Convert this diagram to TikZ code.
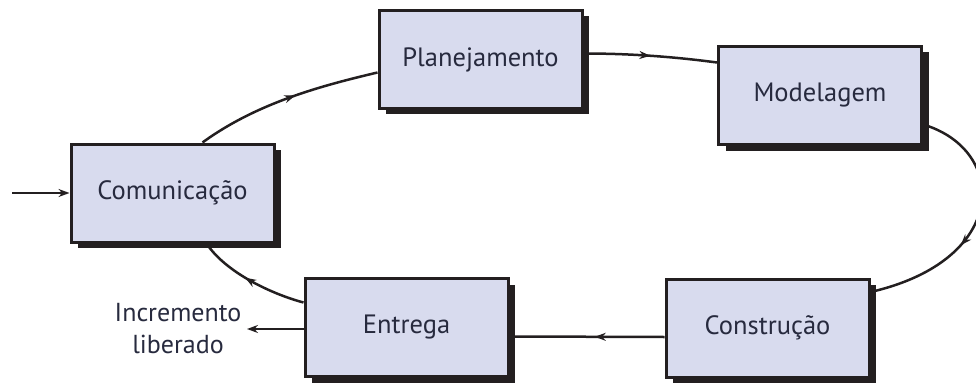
\documentclass[tikz,border=0pt]{standalone}
\usepackage{fontspec}
\setmainfont{PT Sans}
\usetikzlibrary{arrows.meta,decorations.markings,shadows}
\definecolor{boxfill}{HTML}{D8DBEE}
\definecolor{boxline}{HTML}{231F20}
\definecolor{txt}{HTML}{272A3E}
\tikzset{
  stagebox/.style={draw=boxline, line width=3pt, fill=boxfill,
    minimum width=203pt, minimum height=98pt, inner sep=0pt,
    font=\fontsize{26.5}{30}\selectfont, text=txt,
    drop shadow={shadow xshift=7pt, shadow yshift=-6pt, fill=boxline, opacity=1}},
  conn/.style={draw=boxline, line width=2.5pt},
  midarrow/.style={postaction={decorate}, decoration={markings,
    mark=at position #1 with {\arrow{Stealth[length=11pt,width=8pt]}}}},
  tipped/.style={-{Stealth[length=11pt,width=8pt]}}
}
\begin{document}
\begin{tikzpicture}[x=1pt,y=-1pt]
\useasboundingbox (0,0) rectangle (976,385);
% nodes
\node[stagebox] (com)  at (172.5,193)   {Comunicação};
\node[stagebox] (plan) at (480.5,59.5)  {Planejamento};
\node[stagebox] (mod)  at (820,95.5)    {Modelagem};
\node[stagebox] (cons) at (767.5,328)   {Construção};
\node[stagebox] (ent)  at (406.5,327.5) {Entrega};
\coordinate (in) at (12,193);
\coordinate (out) at (247,329);
\node[font=\fontsize{26}{32}\selectfont, text=txt, align=center] (lbl) at (178,329) {Incremento\\liberado};
% connectors
\draw[conn, midarrow=0.55] ([xshift=30pt]com.north) .. controls +(55,-40) and +(-55,13) .. ([yshift=-13pt]plan.west);
\draw[conn, midarrow=0.5] ([yshift=6pt]plan.east) .. controls +(45,0) and +(-45,-6) .. ([yshift=33pt]mod.west);
\draw[conn, midarrow=0.6] ([yshift=-29pt]mod.east) .. controls +(85,25) and +(140,-32) .. ([yshift=36pt]cons.east);
\draw[conn, midarrow=0.45] ([yshift=-9pt]cons.west) -- ([yshift=-9pt]ent.east);
\draw[conn, midarrow=0.55] ([yshift=25pt]ent.west) .. controls +(-30,-8) and +(20,30) .. ([xshift=34pt]com.south);
\draw[conn, tipped] (in) -- (com.west);
\draw[conn, tipped] ([yshift=-1.5pt]ent.west) -- (out);
\end{tikzpicture}
\end{document}
